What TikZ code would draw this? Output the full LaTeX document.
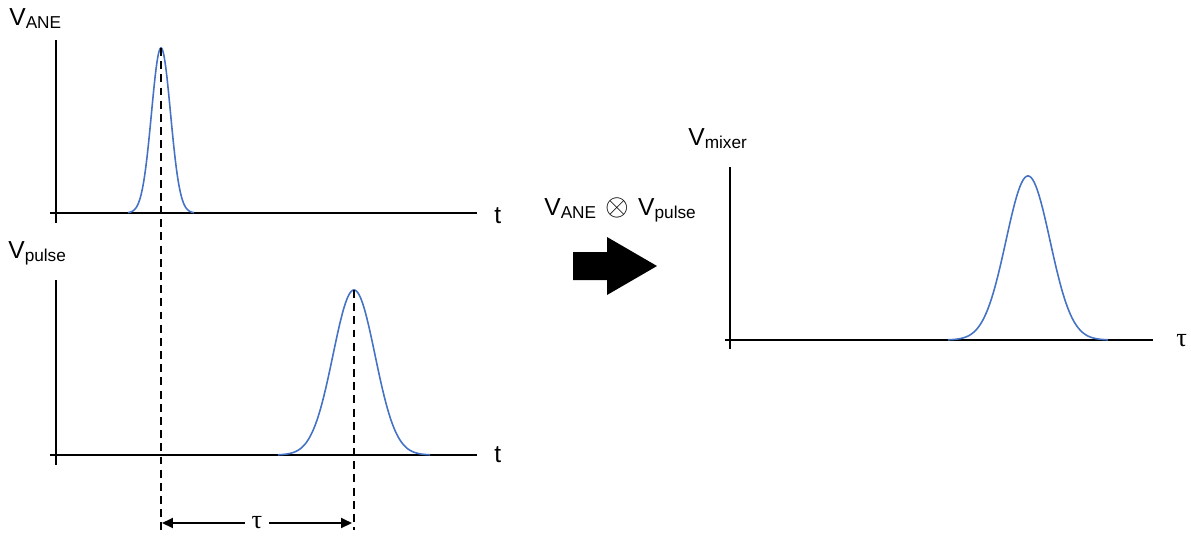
\documentclass[tikz,border=0pt]{standalone}
\usepackage{fontspec}
\setmainfont{Liberation Sans}
\newfontfamily\greekfont{Liberation Serif}
\usepackage{xcolor}
\definecolor{curve}{RGB}{68,114,196}
\usetikzlibrary{arrows.meta,positioning}

\begin{document}
\begin{tikzpicture}[x=0.02cm,y=-0.02cm,
    axis/.style={line width=1.5pt},
    pulse/.style={curve, line width=0.9pt, smooth, samples=150},
    guide/.style={line width=1.1pt, dash pattern=on 4.5pt off 3pt},
    lbl/.style={font=\fontsize{14}{16}\selectfont, inner sep=0pt}]
    \useasboundingbox (0,0) rectangle (1191,535);

    % Signal ANE
    \draw[axis] (56,40) -- (56,223);
    \draw[axis] (50,213) -- (477,213);
    \node[lbl, anchor=base west] (vane) at (9,25) {V\textsubscript{ANE}};
    \node[lbl, anchor=base west] (tane) at (494,223) {t};
    \draw[pulse] plot[domain=128:194] (\x,{213-165*exp(-((\x-161)/9.5)^2/2)});
    \coordinate (peakane) at (161,48);

    % Signal pulse
    \draw[axis] (56,280) -- (56,465);
    \draw[axis] (50,455) -- (477,455);
    \node[lbl, anchor=base west] (vpulse) at (8,258) {V\textsubscript{pulse}};
    \node[lbl, anchor=base west] (tpulse) at (494,462) {t};
    \draw[pulse] plot[domain=278:430] (\x,{455-165*exp(-((\x-354)/21)^2/2)});
    \coordinate (peakpulse) at (354,290);

    % Delay
    \coordinate (endane) at (161,530);
    \coordinate (endpulse) at (354,530);
    \draw[guide] (peakane) -- (endane);
    \draw[guide] (peakpulse) -- (endpulse);
    \coordinate (tauL) at (162,523);
    \coordinate (tauR) at (352,523);
    \draw[line width=1.1pt, {Triangle[length=2.2mm,width=2mm]}-{Triangle[length=2.2mm,width=2mm]}]
        (tauL) -- node[fill=white, font=\fontsize{15}{16}\selectfont\greekfont, inner xsep=4pt, inner ysep=1pt] (tau) {τ} (tauR);

    % Mixing
    \node[lbl, anchor=base west] (mix) at (544,215) {V\textsubscript{ANE}\hspace{5pt}\scalebox{1.2}{$\otimes$}\hspace{5pt}V\textsubscript{pulse}};
    \fill (573,252) -- (607,252) -- (607,237) -- (657,266) -- (607,295) -- (607,280) -- (573,280) -- cycle;

    % Signal mixer
    \draw[axis] (730,167) -- (730,349);
    \draw[axis] (725,340) -- (1153,340);
    \node[lbl, anchor=base west] (vmixer) at (688,145) {V\textsubscript{mixer}};
    \node[lbl, anchor=base west, font=\fontsize{15}{16}\selectfont\greekfont] (taumix) at (1176,346) {τ};
    \draw[pulse] plot[domain=948:1108] (\x,{340-164*exp(-((\x-1028)/22)^2/2)});
\end{tikzpicture}
\end{document}
